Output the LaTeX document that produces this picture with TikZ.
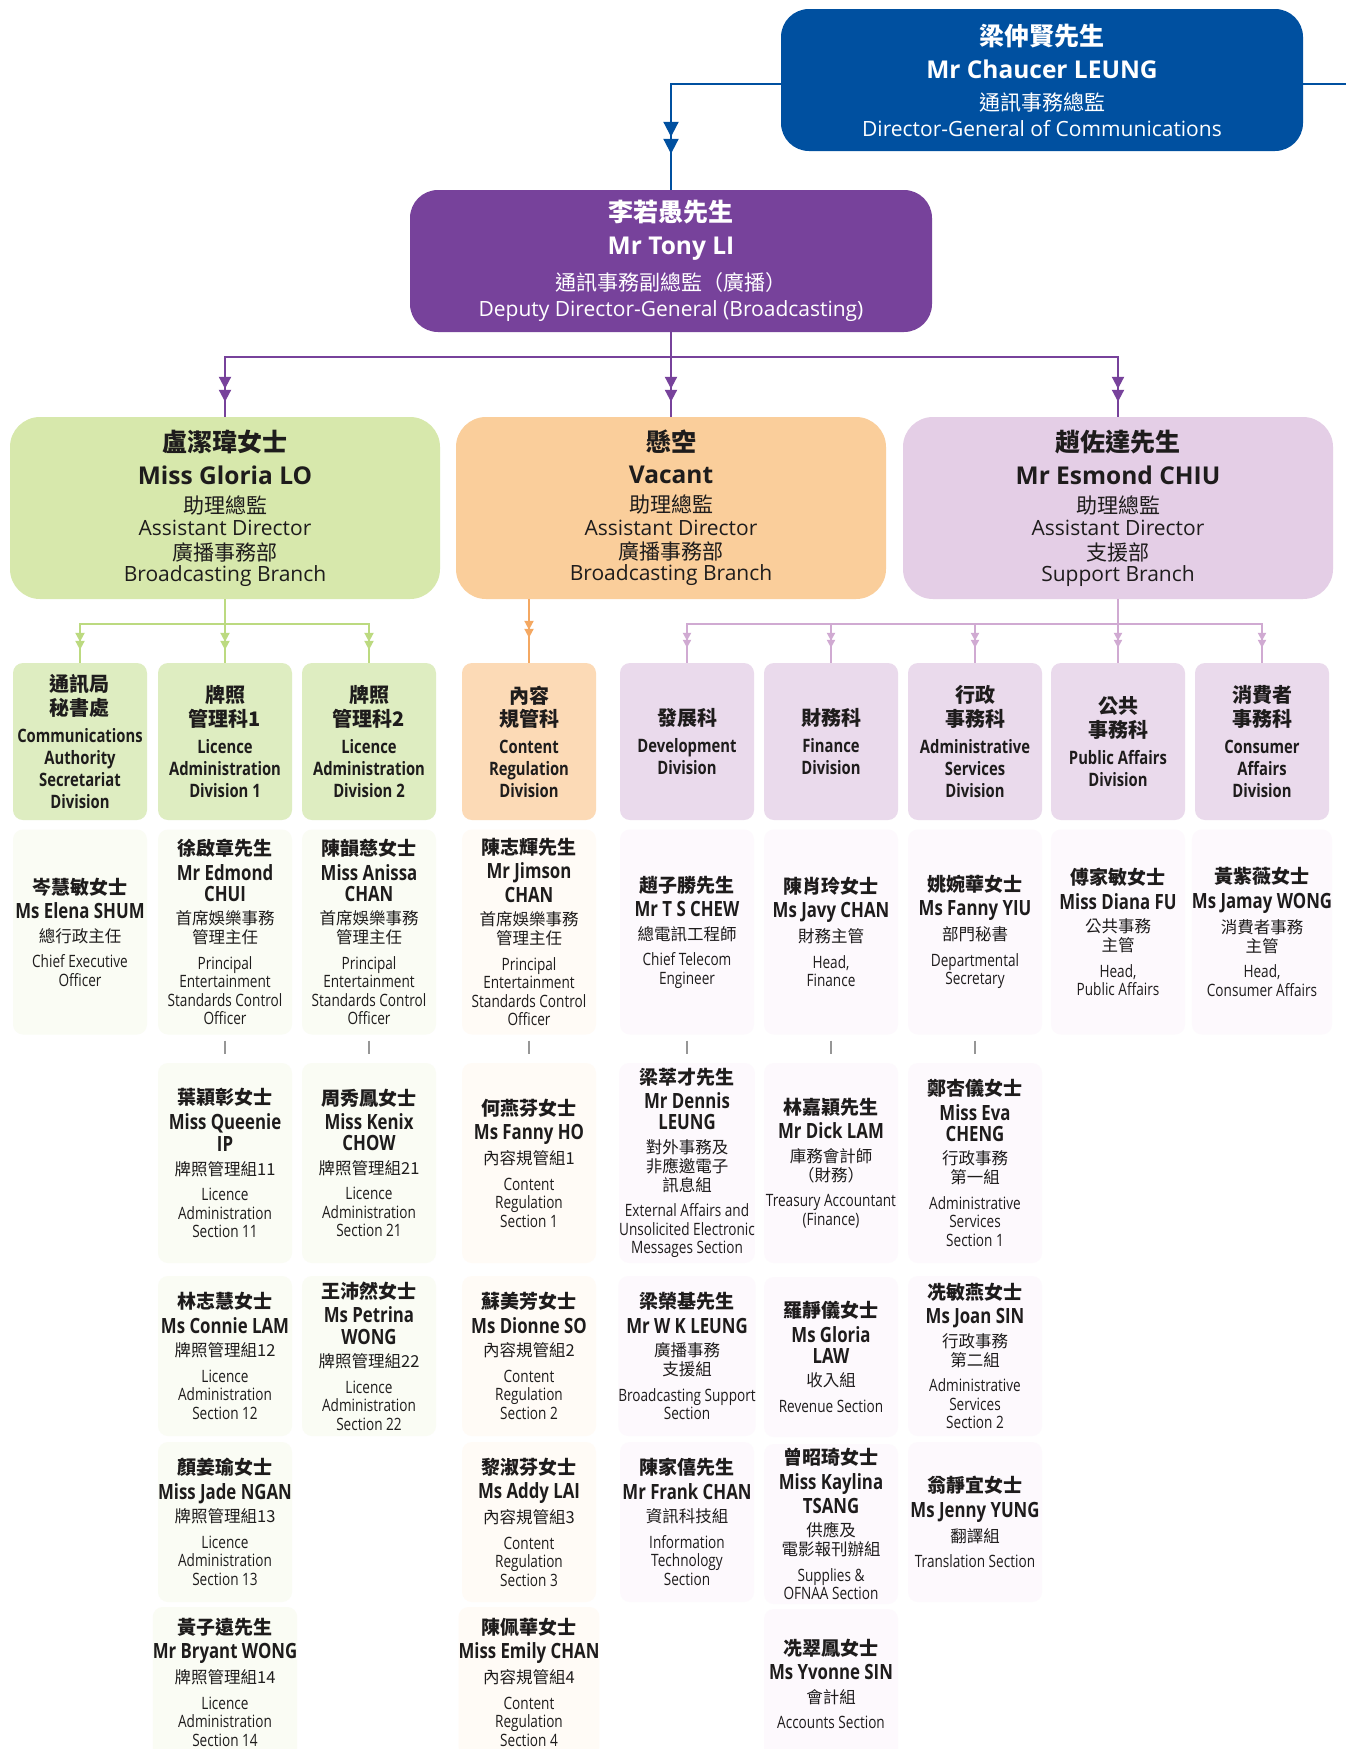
\documentclass[tikz,border=0pt]{standalone}
\usepackage{fontspec}
\setmainfont{Open Sans}
\newfontfamily\osc{Open Sans}[FakeStretch=0.8]
\newfontfamily\cjk{Noto Sans CJK TC}
\usetikzlibrary{arrows.meta,decorations.markings}

\definecolor{dgblue}{RGB}{0,80,160}
\definecolor{ddgpurple}{RGB}{119,66,155}
\definecolor{brgreen}{RGB}{215,232,172}
\definecolor{brorange}{RGB}{250,206,155}
\definecolor{brlilac}{RGB}{228,206,230}
\definecolor{dvgreen}{RGB}{222,237,193}
\definecolor{dvorange}{RGB}{252,218,182}
\definecolor{dvlilac}{RGB}{234,218,236}
\definecolor{pgreen}{RGB}{250,252,244}
\definecolor{porange}{RGB}{255,251,246}
\definecolor{plilac}{RGB}{253,249,253}
\definecolor{lngreen}{RGB}{188,218,128}
\definecolor{lnorange}{RGB}{244,168,98}
\definecolor{lnlilac}{RGB}{208,170,210}
\definecolor{txt}{RGB}{30,28,28}
\definecolor{tickgray}{RGB}{150,150,150}

% person texts
\newcommand\pzh[1]{{\cjk\bfseries\fontsize{19}{19}\selectfont #1}}
\newcommand\pen[1]{{\osc\bfseries\fontsize{21}{21}\selectfont #1}}
\newcommand\pct[1]{{\cjk\fontsize{16.5}{16.5}\selectfont #1}}
\newcommand\pet[1]{{\osc\fontsize{17}{17}\selectfont #1}}
% division texts
\newcommand\dzh[1]{{\cjk\bfseries\fontsize{20}{20}\selectfont #1}}
\newcommand\den[1]{{\osc\bfseries\fontsize{18.5}{18.5}\selectfont #1}}
% branch texts
\newcommand\bzh[1]{{\cjk\bfseries\fontsize{25}{25}\selectfont #1}}
\newcommand\ben[1]{{\bfseries\fontsize{24.5}{24.5}\selectfont #1}}
\newcommand\bct[1]{{\cjk\fontsize{21}{21}\selectfont #1}}
\newcommand\bet[1]{{\fontsize{21}{21}\selectfont #1}}

\tikzset{
  twotips/.style n args={4}{postaction={decorate,decoration={markings,
    mark=at position #1 with {\arrow[#4]{Triangle[length=#3,width=#3]}},
    mark=at position #2 with {\arrow[#4]{Triangle[length=#3,width=#3]}}}}},
  topbox/.style={rounded corners=28pt, minimum width=522pt, minimum height=142pt,
    align=center, text=white, inner sep=0pt, font=\fontsize{10}{21}\selectfont},
  brbox/.style={rounded corners=30pt, minimum width=430pt, minimum height=182pt,
    align=center, inner sep=0pt, text=txt, font=\fontsize{10}{21}\selectfont},
  dvbox/.style={rounded corners=10pt, minimum width=134pt, minimum height=157pt,
    align=center, inner sep=0pt, text=txt, font=\fontsize{10}{22}\selectfont},
  pbox/.style={rounded corners=10pt, minimum width=134pt,
    align=center, inner sep=0pt, text=txt, font=\fontsize{10}{18.5}\selectfont},
  pg/.style={pbox, fill=pgreen},
  po/.style={pbox, fill=porange},
  pl/.style={pbox, fill=plilac},
  rowa/.style={minimum height=205pt},
  rowb/.style={minimum height=200pt},
  rowc/.style={minimum height=160pt},
  rowd/.style={minimum height=160pt},
  rowe/.style={minimum height=150pt},
  bline/.style={draw=dgblue, line width=2pt},
  pline/.style={draw=ddgpurple, line width=2pt},
  gline/.style={draw=lngreen, line width=2pt},
  oline/.style={draw=lnorange, line width=2pt},
  lline/.style={draw=lnlilac, line width=2pt},
  tickln/.style={draw=tickgray, line width=1.4pt},
}

\begin{document}
\begin{tikzpicture}[x=1pt,y=-1pt]
\useasboundingbox (0,0) rectangle (1346,1749);
\fill[white] (0,0) rectangle (1346,1749);

% ---------- top boxes ----------
\node[topbox, fill=dgblue] (dg) at (1042,80)
  {\bzh{梁仲賢先生}\\[11pt]\ben{Mr Chaucer LEUNG}\\[11.5pt]\bct{通訊事務總監}\\[4.5pt]\bet{Director-General of Communications}};
\node[topbox, fill=ddgpurple] (ddg) at (671,261)
  {\bzh{李若愚先生}\\[11.5pt]\ben{Mr Tony LI}\\[12pt]\bct{通訊事務副總監（廣播）}\\[5pt]\bet{Deputy Director-General (Broadcasting)}};

% ---------- branch boxes ----------
\node[brbox, fill=brgreen] (brA) at (225,508)
  {\bzh{盧潔瑋女士}\\[11pt]\ben{Miss Gloria LO}\\[8pt]\bct{助理總監}\\[1.5pt]\bet{Assistant Director}\\[3.5pt]\bct{廣播事務部}\\\bet{Broadcasting Branch}};
\node[brbox, fill=brorange] (brB) at (671,508)
  {\bzh{懸空}\\[11pt]\ben{Vacant}\\[8pt]\bct{助理總監}\\[1.5pt]\bet{Assistant Director}\\[3.5pt]\bct{廣播事務部}\\\bet{Broadcasting Branch}};
\node[brbox, fill=brlilac] (brC) at (1118,508)
  {\bzh{趙佐達先生}\\[11pt]\ben{Mr Esmond CHIU}\\[8pt]\bct{助理總監}\\[1.5pt]\bet{Assistant Director}\\[3.5pt]\bct{支援部}\\\bet{Support Branch}};

% ---------- division boxes ----------
\node[dvbox, fill=dvgreen] (dv1) at (80,741.5)
  {\dzh{通訊局}\\[1.4pt]\dzh{秘書處}\\[4.8pt]\den{Communications}\\\den{Authority}\\\den{Secretariat}\\\den{Division}};
\node[dvbox, fill=dvgreen] (dv2) at (225,741.5)
  {\dzh{牌照}\\[1.4pt]\dzh{管理科1}\\[4.8pt]\den{Licence}\\\den{Administration}\\\den{Division 1}};
\node[dvbox, fill=dvgreen] (dv3) at (369,741.5)
  {\dzh{牌照}\\[1.4pt]\dzh{管理科2}\\[4.8pt]\den{Licence}\\\den{Administration}\\\den{Division 2}};
\node[dvbox, fill=dvorange] (dv4) at (529,741.5)
  {\dzh{內容}\\[1.4pt]\dzh{規管科}\\[4.8pt]\den{Content}\\\den{Regulation}\\\den{Division}};
\node[dvbox, fill=dvlilac] (dv5) at (687,741.5)
  {\dzh{發展科}\\[4.8pt]\den{Development}\\\den{Division}};
\node[dvbox, fill=dvlilac] (dv6) at (831,741.5)
  {\dzh{財務科}\\[4.8pt]\den{Finance}\\\den{Division}};
\node[dvbox, fill=dvlilac] (dv7) at (975,741.5)
  {\dzh{行政}\\[1.4pt]\dzh{事務科}\\[4.8pt]\den{Administrative}\\\den{Services}\\\den{Division}};
\node[dvbox, fill=dvlilac] (dv8) at (1118,741.5)
  {\dzh{公共}\\[1.4pt]\dzh{事務科}\\[4.8pt]\den{Public Affairs}\\\den{Division}};
\node[dvbox, fill=dvlilac] (dv9) at (1262,741.5)
  {\dzh{消費者}\\[1.4pt]\dzh{事務科}\\[4.8pt]\den{Consumer}\\\den{Affairs}\\\den{Division}};

% ---------- row 1 ----------
\node[pg,rowa] (r1c1) at (80,932)
  {\pzh{岑慧敏女士}\\[6pt]\pen{Ms Elena SHUM}\\[5pt]\pct{總行政主任}\\[7pt]\pet{Chief Executive}\\\pet{Officer}};
\node[pg,rowa] (r1c2) at (225,932)
  {\pzh{徐啟章先生}\\[6pt]\pen{Mr Edmond}\\[2.7pt]\pen{CHUI}\\[5pt]\pct{首席娛樂事務}\\[0.5pt]\pct{管理主任}\\[7pt]\pet{Principal}\\\pet{Entertainment}\\\pet{Standards Control}\\\pet{Officer}};
\node[pg,rowa] (r1c3) at (369,932)
  {\pzh{陳韻慈女士}\\[6pt]\pen{Miss Anissa}\\[2.7pt]\pen{CHAN}\\[5pt]\pct{首席娛樂事務}\\[0.5pt]\pct{管理主任}\\[7pt]\pet{Principal}\\\pet{Entertainment}\\\pet{Standards Control}\\\pet{Officer}};
\node[po,rowa] (r1c4) at (529,932)
  {\pzh{陳志輝先生}\\[6pt]\pen{Mr Jimson}\\[2.7pt]\pen{CHAN}\\[5pt]\pct{首席娛樂事務}\\[0.5pt]\pct{管理主任}\\[7pt]\pet{Principal}\\\pet{Entertainment}\\\pet{Standards Control}\\\pet{Officer}};
\node[pl,rowa] (r1c5) at (687,932)
  {\pzh{趙子勝先生}\\[6pt]\pen{Mr T S CHEW}\\[5pt]\pct{總電訊工程師}\\[7pt]\pet{Chief Telecom}\\\pet{Engineer}};
\node[pl,rowa] (r1c6) at (831,932)
  {\pzh{陳肖玲女士}\\[6pt]\pen{Ms Javy CHAN}\\[5pt]\pct{財務主管}\\[7pt]\pet{Head,}\\\pet{Finance}};
\node[pl,rowa] (r1c7) at (975,932)
  {\pzh{姚婉華女士}\\[6pt]\pen{Ms Fanny YIU}\\[5pt]\pct{部門秘書}\\[7pt]\pet{Departmental}\\\pet{Secretary}};
\node[pl,rowa] (r1c8) at (1118,932)
  {\pzh{傅家敏女士}\\[6pt]\pen{Miss Diana FU}\\[5pt]\pct{公共事務}\\[0.5pt]\pct{主管}\\[7pt]\pet{Head,}\\\pet{Public Affairs}};
\node[pl,rowa] (r1c9) at (1262,932)
  {\pzh{黃紫薇女士}\\[6pt]\pen{Ms Jamay WONG}\\[5pt]\pct{消費者事務}\\[0.5pt]\pct{主管}\\[7pt]\pet{Head,}\\\pet{Consumer Affairs}};

% ---------- row 2 ----------
\node[pg,rowb] (r2c2) at (225,1163)
  {\pzh{葉穎彰女士}\\[6pt]\pen{Miss Queenie}\\[2.7pt]\pen{IP}\\[5pt]\pct{牌照管理組11}\\[7pt]\pet{Licence}\\\pet{Administration}\\\pet{Section 11}};
\node[pg,rowb] (r2c3) at (369,1163)
  {\pzh{周秀鳳女士}\\[6pt]\pen{Miss Kenix}\\[2.7pt]\pen{CHOW}\\[5pt]\pct{牌照管理組21}\\[7pt]\pet{Licence}\\\pet{Administration}\\\pet{Section 21}};
\node[po,rowb] (r2c4) at (529,1163)
  {\pzh{何燕芬女士}\\[6pt]\pen{Ms Fanny HO}\\[5pt]\pct{內容規管組1}\\[7pt]\pet{Content}\\\pet{Regulation}\\\pet{Section 1}};
\node[pl,rowb] (r2c5) at (687,1163)
  {\pzh{梁萃才先生}\\[6pt]\pen{Mr Dennis}\\[2.7pt]\pen{LEUNG}\\[5pt]\pct{對外事務及}\\[0.5pt]\pct{非應邀電子}\\[0.5pt]\pct{訊息組}\\[7pt]\pet{External Affairs and}\\\pet{Unsolicited Electronic}\\\pet{Messages Section}};
\node[pl,rowb] (r2c6) at (831,1163)
  {\pzh{林嘉穎先生}\\[6pt]\pen{Mr Dick LAM}\\[5pt]\pct{庫務會計師}\\[0.5pt]\pct{（財務）}\\[7pt]\pet{Treasury Accountant}\\\pet{(Finance)}};
\node[pl,rowb] (r2c7) at (975,1163)
  {\pzh{鄭杏儀女士}\\[6pt]\pen{Miss Eva}\\[2.7pt]\pen{CHENG}\\[5pt]\pct{行政事務}\\[0.5pt]\pct{第一組}\\[7pt]\pet{Administrative}\\\pet{Services}\\\pet{Section 1}};

% ---------- row 3 ----------
\node[pg,rowc] (r3c2) at (225,1356)
  {\pzh{林志慧女士}\\[6pt]\pen{Ms Connie LAM}\\[5pt]\pct{牌照管理組12}\\[7pt]\pet{Licence}\\\pet{Administration}\\\pet{Section 12}};
\node[pg,rowc] (r3c3) at (369,1356)
  {\pzh{王沛然女士}\\[6pt]\pen{Ms Petrina}\\[2.7pt]\pen{WONG}\\[5pt]\pct{牌照管理組22}\\[7pt]\pet{Licence}\\\pet{Administration}\\\pet{Section 22}};
\node[po,rowc] (r3c4) at (529,1356)
  {\pzh{蘇美芳女士}\\[6pt]\pen{Ms Dionne SO}\\[5pt]\pct{內容規管組2}\\[7pt]\pet{Content}\\\pet{Regulation}\\\pet{Section 2}};
\node[pl,rowc] (r3c5) at (687,1356)
  {\pzh{梁榮基先生}\\[6pt]\pen{Mr W K LEUNG}\\[5pt]\pct{廣播事務}\\[0.5pt]\pct{支援組}\\[7pt]\pet{Broadcasting Support}\\\pet{Section}};
\node[pl,rowc] (r3c6) at (831,1357)
  {\pzh{羅靜儀女士}\\[6pt]\pen{Ms Gloria}\\[2.7pt]\pen{LAW}\\[5pt]\pct{收入組}\\[7pt]\pet{Revenue Section}};
\node[pl,rowc] (r3c7) at (975,1356)
  {\pzh{冼敏燕女士}\\[6pt]\pen{Ms Joan SIN}\\[5pt]\pct{行政事務}\\[0.5pt]\pct{第二組}\\[7pt]\pet{Administrative}\\\pet{Services}\\\pet{Section 2}};

% ---------- row 4 ----------
\node[pg,rowd] (r4c2) at (225,1522)
  {\pzh{顏姜瑜女士}\\[6pt]\pen{Miss Jade NGAN}\\[5pt]\pct{牌照管理組13}\\[7pt]\pet{Licence}\\\pet{Administration}\\\pet{Section 13}};
\node[po,rowd] (r4c4) at (529,1522)
  {\pzh{黎淑芬女士}\\[6pt]\pen{Ms Addy LAI}\\[5pt]\pct{內容規管組3}\\[7pt]\pet{Content}\\\pet{Regulation}\\\pet{Section 3}};
\node[pl,rowd] (r4c5) at (687,1522)
  {\pzh{陳家僖先生}\\[6pt]\pen{Mr Frank CHAN}\\[5pt]\pct{資訊科技組}\\[7pt]\pet{Information}\\\pet{Technology}\\\pet{Section}};
\node[pl,rowd] (r4c6) at (831,1524)
  {\pzh{曾昭琦女士}\\[6pt]\pen{Miss Kaylina}\\[2.7pt]\pen{TSANG}\\[5pt]\pct{供應及}\\[0.5pt]\pct{電影報刊辦組}\\[7pt]\pet{Supplies \&}\\\pet{OFNAA Section}};
\node[pl,rowd] (r4c7) at (975,1522)
  {\pzh{翁靜宜女士}\\[6pt]\pen{Ms Jenny YUNG}\\[5pt]\pct{翻譯組}\\[7pt]\pet{Translation Section}};

% ---------- row 5 ----------
\node[pg,rowe] (r5c2) at (225,1682)
  {\pzh{黃子遠先生}\\[6pt]\pen{Mr Bryant WONG}\\[5pt]\pct{牌照管理組14}\\[7pt]\pet{Licence}\\\pet{Administration}\\\pet{Section 14}};
\node[po,rowe] (r5c4) at (529,1682)
  {\pzh{陳佩華女士}\\[6pt]\pen{Miss Emily CHAN}\\[5pt]\pct{內容規管組4}\\[7pt]\pet{Content}\\\pet{Regulation}\\\pet{Section 4}};
\node[pl,rowe] (r5c6) at (831,1684)
  {\pzh{冼翠鳳女士}\\[6pt]\pen{Ms Yvonne SIN}\\[5pt]\pct{會計組}\\[7pt]\pet{Accounts Section}};

% ---------- connectors ----------
\coordinate (dgjn) at (671,84);
\coordinate (dgright) at (1346,84);
\coordinate (pjn) at (671,357);
\coordinate (gjn) at (225,624);
\coordinate (ljn) at (1118,624);

\draw[bline, twotips={-36pt}{-53pt}{15pt}{dgblue}] ([yshift=-4pt]dg.west) -- (dgjn) -- (ddg.north);
\draw[bline] ([yshift=-4pt]dg.east) -- (dgright);

\draw[pline, twotips={-15pt}{-28pt}{12pt}{ddgpurple}] (ddg.south) -- (pjn) -| (brA.north);
\draw[pline, twotips={-15pt}{-28pt}{12pt}{ddgpurple}] (ddg.south) -- (brB.north);
\draw[pline, twotips={-15pt}{-28pt}{12pt}{ddgpurple}] (pjn) -| (brC.north);

\draw[gline, twotips={-13pt}{-21pt}{9pt}{lngreen}] (brA.south) -- (gjn) -| (dv1.north);
\draw[gline, twotips={-13pt}{-21pt}{9pt}{lngreen}] (brA.south) -- (dv2.north);
\draw[gline, twotips={-13pt}{-21pt}{9pt}{lngreen}] (gjn) -| (dv3.north);

\draw[oline, twotips={-25pt}{-33pt}{9pt}{lnorange}] (dv4.north |- brB.south) -- (dv4.north);

\draw[lline, twotips={-15pt}{-22pt}{8pt}{lnlilac}] (brC.south) -- (ljn) -| (dv5.north);
\draw[lline, twotips={-15pt}{-22pt}{8pt}{lnlilac}] (ljn) -| (dv6.north);
\draw[lline, twotips={-15pt}{-22pt}{8pt}{lnlilac}] (ljn) -| (dv7.north);
\draw[lline, twotips={-15pt}{-22pt}{8pt}{lnlilac}] (brC.south) -- (dv8.north);
\draw[lline, twotips={-15pt}{-22pt}{8pt}{lnlilac}] (ljn) -| (dv9.north);

% short faded links between row 1 and row 2
\draw[tickln] ([yshift=-6pt]r1c2.south) -- ([yshift=9pt]r2c2.north);
\draw[tickln] ([yshift=-6pt]r1c3.south) -- ([yshift=9pt]r2c3.north);
\draw[tickln] ([yshift=-6pt]r1c4.south) -- ([yshift=9pt]r2c4.north);
\draw[tickln] ([yshift=-6pt]r1c5.south) -- ([yshift=9pt]r2c5.north);
\draw[tickln] ([yshift=-6pt]r1c6.south) -- ([yshift=9pt]r2c6.north);
\draw[tickln] ([yshift=-6pt]r1c7.south) -- ([yshift=9pt]r2c7.north);
\end{tikzpicture}
\end{document}
